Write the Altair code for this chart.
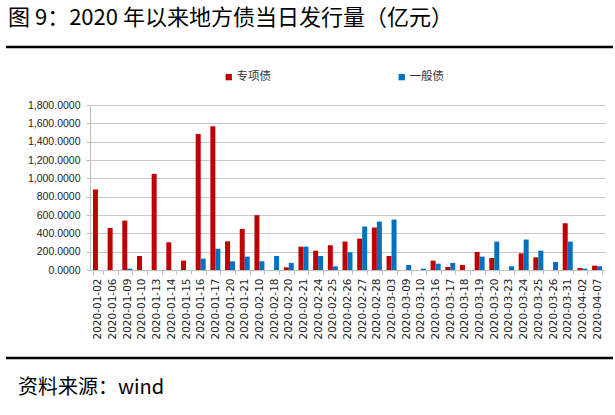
import altair as alt
import pandas as pd

dates = [
    "2020-01-02", "2020-01-06", "2020-01-09", "2020-01-10", "2020-01-13", "2020-01-14",
    "2020-01-15", "2020-01-16", "2020-01-17", "2020-01-20", "2020-01-21", "2020-02-10",
    "2020-02-18", "2020-02-20", "2020-02-21", "2020-02-24", "2020-02-25", "2020-02-26",
    "2020-02-27", "2020-02-28", "2020-03-03", "2020-03-09", "2020-03-10", "2020-03-16",
    "2020-03-17", "2020-03-18", "2020-03-19", "2020-03-20", "2020-03-23", "2020-03-24",
    "2020-03-25", "2020-03-26", "2020-03-31", "2020-04-02", "2020-04-07",
]
special_bonds = [878, 459, 539, 153, 1049, 302, 102, 1483, 1567, 313, 448, 598,
                 0, 29, 255, 211, 270, 310, 343, 463, 153, 0, 0, 102,
                 33, 55, 197, 131, 0, 182, 138, 0, 510, 22, 47]
general_bonds = [0, 0, 15, 0, 0, 0, 0, 124, 233, 95, 146, 95,
                 153, 77, 255, 153, 40, 193, 474, 528, 550, 55, 15, 69,
                 77, 0, 146, 310, 40, 332, 211, 87, 310, 15, 40]
series_names = ["专项债", "一般债"]
series_colors = ["#C00000", "#0070C0"]
y_ticks = [0, 200, 400, 600, 800, 1000, 1200, 1400, 1600, 1800]
title_text = "图 9：2020 年以来地方债当日发行量（亿元）"
source_text = "资料来源：wind"

rows = []
for d, a, b in zip(dates, special_bonds, general_bonds):
    rows.append({"date": d, "type": series_names[0], "value": a})
    rows.append({"date": d, "type": series_names[1], "value": b})
df = pd.DataFrame(rows)

bars = alt.Chart(df).mark_bar().encode(
    x=alt.X("date:N", sort=dates,
            scale=alt.Scale(paddingInner=0.32, paddingOuter=0.2),
            axis=alt.Axis(title=None, labelAngle=-90, labelFont="DejaVu Sans",
                          labelFontSize=10.5, labelColor="#222222", labelPadding=4,
                          tickBand="extent", tickSize=4, tickColor="#BFBFBF",
                          domainColor="#BFBFBF", grid=False)),
    xOffset=alt.XOffset("type:N", sort=series_names,
                        scale=alt.Scale(paddingInner=0, paddingOuter=0)),
    y=alt.Y("value:Q", scale=alt.Scale(domain=[0, 1800], nice=False),
            axis=alt.Axis(title=None, values=y_ticks, format=",.4f",
                          labelFont="Liberation Sans", labelFontSize=10.5,
                          labelColor="#222222", labelPadding=6,
                          tickSize=4, tickColor="#BFBFBF", domainColor="#BFBFBF",
                          gridColor="#C8C8C8", gridWidth=1.2)),
    color=alt.Color("type:N", sort=series_names,
                    scale=alt.Scale(domain=series_names, range=series_colors),
                    legend=alt.Legend(orient="none", legendX=133, legendY=-34,
                                      direction="horizontal", title=None,
                                      symbolType="square", symbolSize=40,
                                      symbolStrokeWidth=0,
                                      labelFont="Noto Sans CJK SC", labelFontSize=11.5,
                                      labelColor="#333333", labelOffset=2,
                                      columnPadding=125)),
)

one = pd.DataFrame({"t": [title_text], "s": [source_text]})

title = alt.Chart(one).mark_text(
    align="left", baseline="middle", font="Noto Sans CJK SC", fontSize=22, color="#000000"
).encode(text="t:N", x=alt.value(-82), y=alt.value(-87))

source = alt.Chart(one).mark_text(
    align="left", baseline="middle", font="Noto Sans CJK SC", fontSize=20, color="#000000"
).encode(text="s:N", x=alt.value(-72), y=alt.value(283))

top_rule = alt.Chart(one).mark_rule(color="#000000", strokeWidth=2.5).encode(
    x=alt.value(-84), x2=alt.value(523), y=alt.value(-58))
bottom_rule = alt.Chart(one).mark_rule(color="#000000", strokeWidth=2.5).encode(
    x=alt.value(-84), x2=alt.value(523), y=alt.value(253))

chart = alt.layer(bars, title, source, top_rule, bottom_rule).properties(
    width=515, height=165,
    autosize=alt.AutoSizeParams(type="none"),
    padding={"left": 90, "top": 105, "right": 10, "bottom": 145},
    background="white",
).configure_view(stroke=None)

chart.save("out.html", embed_options={"renderer": "svg", "actions": False})
